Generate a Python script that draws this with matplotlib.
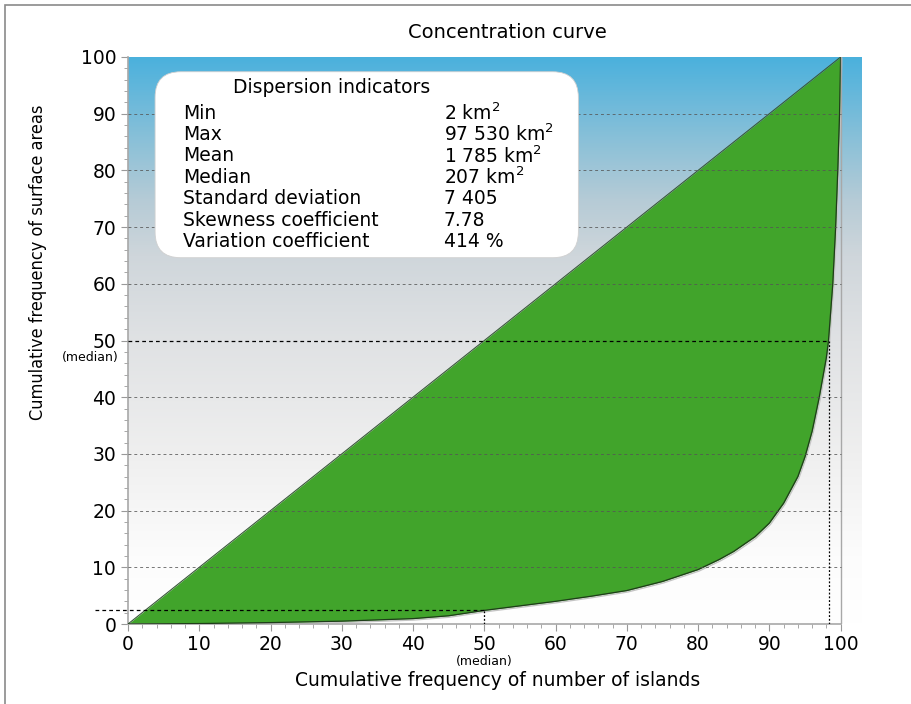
import numpy as np
import matplotlib
matplotlib.use("Agg")
import matplotlib.pyplot as plt
from matplotlib.colors import LinearSegmentedColormap
from matplotlib.patches import FancyBboxPatch, Rectangle

plt.rcParams["font.family"] = ["DejaVu Sans"]

# concentration (Lorenz) curve
share_islands = [0, 10, 20, 30, 40, 45, 50, 55, 60, 65, 70, 75, 80, 83, 85, 88,
                 90, 92, 94, 95, 96, 97, 98, 98.3, 98.9, 99.3, 99.6, 99.85, 100]
share_area = [0, 0.08, 0.25, 0.5, 0.95, 1.45, 2.4, 3.2, 4.0, 4.9, 5.9, 7.5, 9.6,
              11.4, 12.8, 15.4, 17.8, 21.3, 26, 29.5, 34, 40, 47, 50, 60, 70,
              80, 90, 100]

# medians
median_islands_x = 50       # half of the islands ...
median_islands_y = 2.4      # ... hold this share of the area
median_area_x = 98.3        # half of the area is in the largest islands
median_area_y = 50

indicator_names = ["Min", "Max", "Mean", "Median", "Standard deviation",
                   "Skewness coefficient", "Variation coefficient"]
indicator_values = ["2 km$^2$", "97 530 km$^2$", "1 785 km$^2$", "207 km$^2$",
                    "7 405", "7.78", "414 %"]

grid_levels = [10, 20, 30, 40, 60, 70, 80, 90]

fig = plt.figure(figsize=(9.11, 7.04), dpi=100)
ax = fig.add_axes([128 / 911, 1 - 624 / 704, 734 / 911, 567 / 704])
ax.set_xlim(0, 103)
ax.set_ylim(0, 100)

# background gradient: blue at the top, grey, white at the bottom
bg = LinearSegmentedColormap.from_list(
    "bg", [(0.0, "#ffffff"), (0.12, "#fcfcfc"), (0.3, "#efefef"),
           (0.5, "#e0e2e4"), (0.65, "#cfd6db"), (0.75, "#b5cbd6"),
           (0.85, "#8cc1d8"), (1.0, "#4bb1dd")])
grad = np.linspace(0, 1, 256).reshape(-1, 1)
ax.imshow(grad, cmap=bg, origin="lower", aspect="auto",
          extent=[0, 103, 0, 100], zorder=0)

# area between equality line and curve
x = np.array(share_islands)
y = np.array(share_area)
ax.fill_between(x, y, x, color="#41a42b", lw=0, zorder=2)
ax.plot([0, 100], [0, 100], color="#3a5a3a", lw=0.8, zorder=3)
ax.plot(x + 0.15, y - 0.25, color="#c4c4c4", lw=1.0, zorder=1.5)
ax.plot(x, y, color="#1f3d1a", lw=0.9, zorder=3)

for lv in grid_levels:
    ax.plot([0, 100], [lv, lv], color="#555555", lw=0.7, ls=(0, (3, 3)),
            alpha=0.8, zorder=4)

# frame lines
ax.plot([100, 100], [0, 100], color="#a8a8a8", lw=1.0, zorder=3.5)
for s in ["top", "right"]:
    ax.spines[s].set_visible(False)
ax.spines["left"].set_color("#a8a8a8")
ax.spines["bottom"].set_color("#a8a8a8")
ax.spines["left"].set_linewidth(1.2)
ax.spines["bottom"].set_linewidth(1.2)
ax.spines["bottom"].set_bounds(0, 100)

# median guides
ax.plot([0, median_area_x], [median_area_y, median_area_y], color="black",
        lw=0.9, ls=(0, (3, 2.5)), zorder=5)
ax.plot([median_area_x, median_area_x], [0, median_area_y], color="black",
        lw=0.9, ls=(0, (1.5, 1.5)), zorder=5)
ax.plot([-4.6, median_islands_x], [median_islands_y, median_islands_y],
        color="black", lw=0.9, ls=(0, (3, 2.5)), zorder=5, clip_on=False)
ax.plot([median_islands_x, median_islands_x], [0, median_islands_y],
        color="black", lw=0.9, ls=(0, (1.5, 1.5)), zorder=5)

ax.set_xticks(range(0, 101, 10))
ax.set_xticks(range(0, 101, 2), minor=True)
ax.set_yticks(range(0, 101, 10))
ax.set_yticks(range(0, 101, 2), minor=True)
ax.tick_params(which="major", length=5, color="#999999", labelsize=13.5)
ax.tick_params(axis="x", which="major", pad=3)
ax.tick_params(which="minor", length=3, color="#999999")

ax.text(median_islands_x, -6.7, "(median)", ha="center", va="center",
        fontsize=9, clip_on=False)
ax.text(-1.3, 47.0, "(median)", ha="right", va="center",
        fontsize=9, clip_on=False)

# dispersion box
box = FancyBboxPatch((3.8, 64.6), 59.4, 32.8,
                     boxstyle="round,pad=0,rounding_size=3.6",
                     mutation_aspect=1.256, facecolor="white",
                     edgecolor="#d0d0d0", lw=0.6, zorder=6)
ax.add_patch(box)
ax.text(14.7, 94.7, "Dispersion indicators", fontsize=13.5, va="center",
        zorder=7)
row_y = 90.1
for name, val in zip(indicator_names, indicator_values):
    ax.text(7.7, row_y, name, fontsize=13.5, va="center", zorder=7)
    ax.text(44.3, row_y, val, fontsize=13.5, va="center", zorder=7)
    row_y -= 3.77

fig.text(507 / 911, 1 - 32 / 704, "Concentration curve", ha="center",
         va="center", fontsize=14)
fig.text(498 / 911, 1 - 680 / 704, "Cumulative frequency of number of islands",
         ha="center", va="center", fontsize=13.5)
fig.text(38 / 911, 1 - 262 / 704, "Cumulative frequency of surface areas",
         ha="center", va="center", rotation=90, fontsize=13,
         fontstretch="condensed")

fig.add_artist(Rectangle((5 / 911, -0.05), 1.1, 1.05 - 5 / 704,
                         transform=fig.transFigure, fill=False,
                         edgecolor="#8a8a8a", lw=1.2))

fig.savefig("out.png", dpi=100)
